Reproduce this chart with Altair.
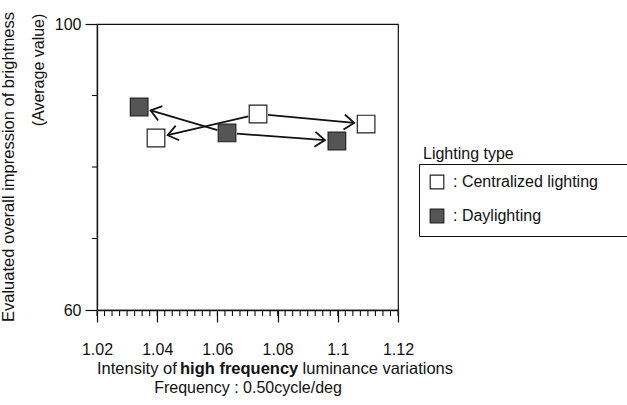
import math
import altair as alt
import pandas as pd

# ---------------- data ----------------
categories = ["Centralized lighting", "Daylighting"]
cent_x = [1.0396, 1.0735, 1.1094]
cent_y = [84.06, 87.41, 86.01]
day_x = [1.0340, 1.0632, 1.0997]
day_y = [88.39, 84.76, 83.64]
x_major = [1.02, 1.03, 1.04, 1.05, 1.06, 1.07, 1.08, 1.09, 1.10, 1.11, 1.12]
x_minor = [round(1.02 + 0.0025 * i, 4) for i in range(41)]
y_labeled = [60, 100]
y_minor = [70, 80, 90]

X_DOM = [1.02, 1.12]
Y_DOM = [60, 100]
W, H = 301, 286
FONT = "Liberation Sans"

pts = pd.DataFrame(
    {
        "x": cent_x + day_x,
        "y": cent_y + day_y,
        "cat": [categories[0]] * 3 + [categories[1]] * 3,
    }
)

# arrows: from the middle point of each series to both outer points
sx = W / (X_DOM[1] - X_DOM[0])
sy = H / (Y_DOM[1] - Y_DOM[0])
rows = []
for xs, ys in [(cent_x, cent_y), (day_x, day_y)]:
    for t in (0, 2):
        x0, y0, x1, y1 = xs[1], ys[1], xs[t], ys[t]
        dxp, dyp = (x1 - x0) * sx, -(y1 - y0) * sy
        L = math.hypot(dxp, dyp)
        ux, uy = dxp / L, dyp / L
        s, e = 10.0, L - 12.0
        rows.append(
            {
                "xa": x0 + ux * s / sx,
                "ya": y0 - uy * s / sy,
                "xb": x0 + ux * e / sx,
                "yb": y0 - uy * e / sy,
                "ang": math.degrees(math.atan2(uy, ux)) % 360,
            }
        )
arr = pd.DataFrame(rows)

xs_ = alt.Scale(domain=X_DOM, nice=False, zero=False)
ys_ = alt.Scale(domain=Y_DOM, nice=False, zero=False)

base_x_axis = alt.Axis(
    values=x_major,
    labelExpr="(round(datum.value*100) % 2 == 0) ? format(datum.value, '.3~g') : ''",
    labelFlush=False,
    labelOverlap=False,
    tickSize=12,
    labelPadding=19,
    labelFontSize=16,
    labelFont=FONT,
    labelColor="#111",
    domainColor="#111",
    tickColor="#111",
    domainWidth=1.3,
    tickWidth=1.2,
    grid=False,
    title=None,
)
base_y_axis = alt.Axis(
    values=y_labeled,
    labelFlush=False,
    tickSize=12,
    labelPadding=4,
    labelFontSize=16,
    labelFont=FONT,
    labelColor="#111",
    domainColor="#111",
    tickColor="#111",
    domainWidth=1.3,
    tickWidth=1.2,
    grid=False,
    title=None,
)

lines = alt.Chart(arr).mark_rule(color="#111", strokeWidth=1.8).encode(
    x=alt.X("xa:Q", scale=xs_, axis=base_x_axis),
    y=alt.Y("ya:Q", scale=ys_, axis=base_y_axis),
    x2="xb:Q",
    y2="yb:Q",
)
heads = alt.Chart(arr).mark_point(
    shape="M-1,-0.75L0,0L-1,0.75",
    filled=False,
    stroke="#111",
    strokeWidth=1.8,
    size=400,
    opacity=1,
).encode(
    x=alt.X("xb:Q", scale=xs_),
    y=alt.Y("yb:Q", scale=ys_),
    angle=alt.Angle("ang:Q", scale=None),
)

minor_x = alt.Chart(pd.DataFrame({"v": x_minor})).mark_rule(
    color="#111", strokeWidth=1.1
).encode(x=alt.X("v:Q", scale=xs_), y=alt.value(H), y2=alt.value(H + 6))

minor_y = alt.Chart(pd.DataFrame({"v": y_minor})).mark_rule(
    color="#111", strokeWidth=1.1
).encode(y=alt.Y("v:Q", scale=ys_), x=alt.value(-5), x2=alt.value(0))

PAD = "\u2800\u2800"
markers = alt.Chart(pts).mark_square(
    size=310, filled=True, stroke="#222", strokeWidth=1.2, opacity=1
).encode(
    x=alt.X("x:Q", scale=xs_),
    y=alt.Y("y:Q", scale=ys_),
    fill=alt.Fill(
        "cat:N",
        scale=alt.Scale(domain=categories, range=["#ffffff", "#555555"]),
        legend=alt.Legend(
            title=None,
            orient="none",
            legendX=322,
            legendY=140,
            padding=10,
            strokeColor="#111",
            symbolType="square",
            symbolSize=185,
            symbolStrokeColor="#222",
            symbolStrokeWidth=1.2,
            labelFont=FONT,
            labelFontSize=16,
            labelColor="#111",
            labelOffset=8,
            rowPadding=14,
            labelLimit=400,
            labelExpr="':  ' + datum.label + '" + PAD + "'",
        ),
    ),
)


def txt(s, x, y, angle=0, align="left", weight="normal", size=16):
    kw = dict(
        text=s,
        font=FONT,
        fontSize=size,
        fontWeight=weight,
        color="#111",
        align=align,
        baseline="alphabetic",
    )
    if angle:
        kw["angle"] = angle
    return alt.Chart(pts).mark_text(**kw).encode(
        x=alt.value(x), y=alt.value(y)
    ).transform_filter("datum.x == " + str(pts["x"][0]))


x0 = 0
texts = [
    txt("Evaluated overall impression of brightness", -83, 143, angle=270, align="center", size=16.5),
    txt("(Average value)", -53, 46, angle=270, align="center"),
    txt("Intensity of", x0, 350, size=16.5),
    txt("high frequency", x0 + 83.0, 350, weight="bold", size=16.5),
    txt("luminance variations", x0 + 83.0 + 118.0 + 4.6, 350, size=16.5),
    txt("Frequency : 0.50cycle/deg", 151, 369, align="center"),
    txt("Lighting type", 326, 135),
]

chart = (
    alt.layer(minor_x, minor_y, lines, heads, markers, *texts)
    .properties(
        width=W,
        height=H,
        autosize=alt.AutoSizeParams(type="none"),
        padding={"left": 97, "top": 24, "right": 229, "bottom": 95},
        background="white",
    )
    .configure_view(stroke="#111", strokeWidth=1.2)
)

chart.save("out.html", embed_options={"renderer": "svg", "actions": False})
